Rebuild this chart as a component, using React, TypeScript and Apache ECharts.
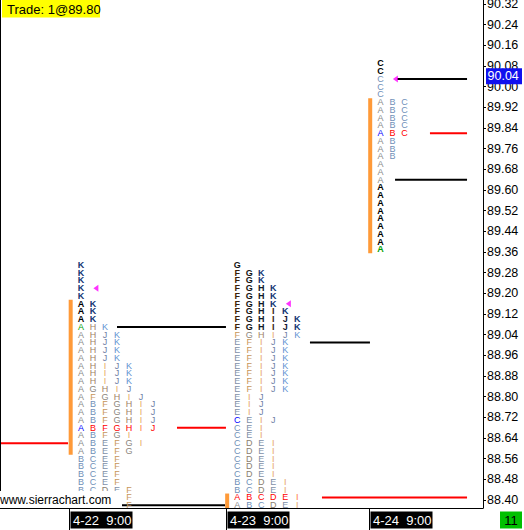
import React, { useEffect, useRef } from "react";
import * as echarts from "echarts";

// ---------- data ----------
const yTickLabels = [
  "90.32", "90.24", "90.16", "90.08", "90.00", "89.92", "89.84", "89.76", "89.68",
  "89.60", "89.52", "89.44", "89.36", "89.28", "89.20", "89.12", "89.04", "88.96",
  "88.88", "88.80", "88.72", "88.64", "88.56", "88.48", "88.40",
];
const dateLabels = ["4-22  9:00", "4-23  9:00", "4-24  9:00"];
// x (in TPO column units) where each session starts
const sessionStartX = [5.79, 18.83, 30.75];

const p1Prices = [
  89.31, 89.28, 89.25, 89.22, 89.19, 89.16, 89.13, 89.10, 89.07, 89.04, 89.01, 88.98,
  88.95, 88.92, 88.89, 88.86, 88.83, 88.80, 88.77, 88.74, 88.71, 88.68, 88.65, 88.62,
  88.59, 88.56, 88.53, 88.50, 88.47, 88.44, 88.41, 88.38,
];
const p1Letters = [
  "K", "K", "K", "K", "K", "AK", "AK", "AK", "AHK", "AHJK", "AHJK", "AHJK",
  "AHJK", "AHIJK", "AHIJK", "AHIJK", "AGHIJ", "AFGHIJ", "ABFGHIJ", "ABFGHIJ", "ABFGHIJ", "ABFGHIJ", "ABFGI", "ABEFGI",
  "ABEFG", "BCEF", "BCEF", "BCEF", "BCEF", "BCDEF", "BCDEF", "BCDEF",
];
const p2Prices = [
  89.31, 89.28, 89.25, 89.22, 89.19, 89.16, 89.13, 89.10, 89.07, 89.04, 89.01, 88.98,
  88.95, 88.92, 88.89, 88.86, 88.83, 88.80, 88.77, 88.74, 88.71, 88.68, 88.65, 88.62,
  88.59, 88.56, 88.53, 88.50, 88.47, 88.44, 88.41, 88.38,
];
const p2Letters = [
  "G", "FGK", "FGK", "FGHK", "FGHK", "FGHK", "FGHIK", "FGHIJK", "FGHIJK", "FGHIJK", "EFIJK", "EFIJK",
  "EFIJK", "EFIJK", "EFIJK", "EFIJK", "EFIJK", "EIJ", "EIJ", "EIJ", "CEIJ", "CEI", "CEI", "CDEI",
  "CDEI", "CDEI", "CDEI", "CDEI", "BCDEI", "BCDEI", "ABCDEI", "ABCDEI",
];
const p3Prices = [
  90.09, 90.06, 90.03, 90.00, 89.97, 89.94, 89.91, 89.88, 89.85, 89.82, 89.79, 89.76,
  89.73, 89.70, 89.67, 89.64, 89.61, 89.58, 89.55, 89.52, 89.49, 89.46, 89.43, 89.40, 89.37,
];
const p3Letters = [
  "C", "C", "C", "C", "C", "ABC", "ABC", "ABC", "ABC", "ABC", "AB", "AB",
  "AB", "A", "A", "A", "A", "A", "A", "A", "A", "A", "A", "A", "A",
];

const pocPrices = [88.68, 88.41, 89.82];
const strongAbove = [89.10, 89.07, 90.06];
const strongBelow = [-1, -1, 89.61];
const openPrices = [89.07, -1, 89.37];
const bluePrices = [88.68, 88.71, 89.82];
const vaHigh = [89.16, 88.41, 89.94];
const vaLow = [88.59, 88.38, 89.37];
const markerPrices = [89.22, 89.16, 90.03];
const markerCols = [1, 4, 1];

const refLinePrices = [88.62, 89.07, 88.68, 88.38, 89.01, 88.41, 90.03, 89.82, 89.64];
const refLineFrom = [0, 9.75, 14.75, 9.75, 25.83, 26.83, 33.08, 35.83, 32.92];
const refLineTo = [5.67, 18.83, 18.83, 18.75, 30.83, 38.92, 38.92, 38.92, 38.92];
const refLineKind = ["poc", "va", "poc", "va", "va", "poc", "va", "poc", "va"];

const lastPrice = 90.04;
const tradeText = "Trade: 1@89.80";
const watermark = "www.sierrachart.com";
const barCountText = "11";

// ---------- styles ----------
const FONT = "'Liberation Sans', Arial, sans-serif";
const normalColor: Record<string, string> = {
  A: "#8a8a8a", B: "#7090b8", C: "#7090b8", D: "#8a8070", E: "#7f90a8", F: "#c8965a",
  G: "#8c867c", H: "#a08466", I: "#e6a468", J: "#6f7ea6", K: "#5f92d2",
};
const strongColor: Record<string, string> = {
  A: "#000000", B: "#10203a", C: "#000000", D: "#1a1a1a", E: "#1a1a1a", F: "#3c2208",
  G: "#141414", H: "#101828", I: "#3a2410", J: "#141a38", K: "#123472",
};
const lineColor: Record<string, string> = { poc: "#ff0000", va: "#000000" };
const COL_OFFSET = 0.95;

const same = (a: number, b: number) => Math.abs(a - b) < 1e-6;

export default function App() {
  const ref = useRef<HTMLDivElement>(null);

  useEffect(() => {
    const el = ref.current!;
    const chart = echarts.init(el, undefined, { renderer: "svg" });

    const profiles = [
      { prices: p1Prices, letters: p1Letters },
      { prices: p2Prices, letters: p2Letters },
      { prices: p3Prices, letters: p3Letters },
    ];

    const letterData: number[][] = [];
    const letterInfo: { ch: string; color: string; bold: boolean }[] = [];
    profiles.forEach((pr, pi) => {
      pr.prices.forEach((price, ri) => {
        const row = pr.letters[ri];
        for (let c = 0; c < row.length; c++) {
          const ch = row[c];
          const bold =
            price >= strongAbove[pi] - 1e-6 ||
            (strongBelow[pi] > 0 && price <= strongBelow[pi] + 1e-6);
          let color = bold ? strongColor[ch] : normalColor[ch];
          if (same(price, pocPrices[pi])) color = ch === "I" ? "#ff7a45" : "#ff0000";
          if (c === 0 && same(price, bluePrices[pi])) color = "#0000ff";
          if (c === 0 && same(price, openPrices[pi])) color = "#00a000";
          letterData.push([sessionStartX[pi] + COL_OFFSET + c, price]);
          letterInfo.push({ ch, color, bold });
        }
      });
    });

    const vaData = sessionStartX.map((x, i) => [x + 0.1, vaHigh[i] + 0.015, vaLow[i] - 0.015]);
    const lineData = refLinePrices.map((p, i) => [refLineFrom[i], refLineTo[i], p, i]);
    const markerData = markerPrices.map((p, i) => [
      sessionStartX[i] + COL_OFFSET + markerCols[i] + 0.25,
      p,
    ]);

    const yTickValues = yTickLabels.map((s) => parseFloat(s));

    const option: any = {
      animation: false,
      backgroundColor: "#ffffff",
      grid: { left: 0, right: 41, top: 0, bottom: 22, containLabel: false, outerBoundsMode: "none" },
      xAxis: {
        type: "value",
        min: 0,
        max: 40.25,
        axisLine: { show: true, onZero: false, lineStyle: { color: "#000", width: 1 } },
        axisTick: { show: false },
        axisLabel: { show: false },
        splitLine: { show: false },
      },
      yAxis: {
        type: "value",
        position: "right",
        min: 88.369,
        max: 90.3355,
        axisLine: { show: true, onZero: false, lineStyle: { color: "#000", width: 1 } },
        axisTick: {
          show: true,
          length: 3,
          customValues: yTickValues,
          lineStyle: { color: "#000" },
        },
        axisLabel: {
          show: true,
          customValues: yTickValues,
          formatter: (v: number) => v.toFixed(2),
          color: "#000",
          fontSize: 12.5,
          fontFamily: FONT,
          margin: 4,
        },
        splitLine: { show: false },
      },
      series: [
        {
          type: "custom",
          name: "value area",
          clip: true,
          data: vaData,
          encode: { x: 0, y: [1, 2] },
          renderItem: (params: any, api: any) => {
            const top = api.coord([api.value(0), api.value(1)]);
            const bot = api.coord([api.value(0), api.value(2)]);
            return {
              type: "rect",
              shape: { x: top[0] - 2, y: top[1], width: 4, height: bot[1] - top[1] },
              style: { fill: "#ff9a38" },
            };
          },
        },
        {
          type: "custom",
          name: "levels",
          clip: true,
          data: lineData,
          encode: { x: [0, 1], y: 2 },
          renderItem: (params: any, api: any) => {
            const a = api.coord([api.value(0), api.value(2)]);
            const b = api.coord([api.value(1), api.value(2)]);
            const kind = refLineKind[params.dataIndex];
            return {
              type: "line",
              shape: { x1: a[0], y1: a[1], x2: b[0], y2: b[1] },
              style: { stroke: lineColor[kind], lineWidth: 2 },
            };
          },
        },
        {
          type: "custom",
          name: "tpo",
          clip: true,
          data: letterData,
          encode: { x: 0, y: 1 },
          renderItem: (params: any, api: any) => {
            const info = letterInfo[params.dataIndex];
            const p = api.coord([api.value(0), api.value(1)]);
            return {
              type: "text",
              x: p[0],
              y: p[1],
              style: {
                text: info.ch,
                fill: info.color,
                font: `${info.bold ? "bold " : ""}9px ${FONT}`,
                lineHeight: 7,
                align: "center",
                verticalAlign: "middle",
              },
            };
          },
        },
        {
          type: "scatter",
          name: "marker",
          data: markerData,
          symbol: "triangle",
          symbolRotate: 90,
          symbolSize: [7, 5],
          itemStyle: { color: "#ff00ff" },
          silent: true,
          z: 5,
        },
      ],
    };

    chart.setOption(option);

    const px = (x: number, y: number) =>
      chart.convertToPixel({ xAxisIndex: 0, yAxisIndex: 0 }, [x, y]) as number[];

    const origin = px(0, 88.369);
    const plotBottom = origin[1];
    const plotRight = px(40.25, 88.369)[0];
    const priceY = px(0, lastPrice)[1];

    const graphics: any[] = [];
    // left session border
    graphics.push({
      type: "line",
      shape: { x1: 0.5, y1: 0, x2: 0.5, y2: plotBottom },
      style: { stroke: "#000", lineWidth: 1 },
      z: 100,
    });
    // session separators + date boxes
    sessionStartX.forEach((sx, i) => {
      const x = Math.round(px(sx, 88.4)[0]) + 0.5;
      graphics.push({
        type: "line",
        shape: { x1: x, y1: plotBottom, x2: x, y2: 530 },
        style: { stroke: "#000", lineWidth: 1 },
        z: 100,
      });
      graphics.push({
        type: "rect",
        shape: { x: x + 1, y: plotBottom + 3.5, width: 62, height: 17 },
        style: { fill: "#000000" },
        z: 100,
      });
      graphics.push({
        type: "text",
        x: x + 3.5,
        y: plotBottom + 12.5,
        style: {
          text: dateLabels[i],
          fill: "#ffffff",
          font: `13px ${FONT}`,
          align: "left",
          verticalAlign: "middle",
        },
        z: 101,
      });
    });
    // bar counter box
    graphics.push({
      type: "rect",
      shape: { x: plotRight + 17, y: plotBottom + 3.5, width: 22, height: 17 },
      style: { fill: "#00c000" },
      z: 100,
    });
    graphics.push({
      type: "text",
      x: plotRight + 28,
      y: plotBottom + 12.5,
      style: { text: barCountText, fill: "#000", font: `13px ${FONT}`, align: "center", verticalAlign: "middle" },
      z: 101,
    });
    // last price label
    graphics.push({
      type: "rect",
      shape: { x: plotRight + 3, y: priceY - 8, width: 36, height: 16 },
      style: { fill: "#1010ee" },
      z: 100,
    });
    graphics.push({
      type: "text",
      x: plotRight + 4.5,
      y: priceY,
      style: { text: lastPrice.toFixed(2), fill: "#ffffff", font: `12.5px ${FONT}`, align: "left", verticalAlign: "middle" },
      z: 101,
    });
    // trade box
    graphics.push({
      type: "rect",
      shape: { x: 2, y: 0, width: 98, height: 17.5 },
      style: { fill: "#ffff00" },
      z: 100,
    });
    graphics.push({
      type: "text",
      x: 7,
      y: 9,
      style: { text: tradeText, fill: "#000", font: `13px ${FONT}`, align: "left", verticalAlign: "middle" },
      z: 101,
    });
    // watermark
    graphics.push({
      type: "rect",
      shape: { x: 0, y: plotBottom - 17, width: 122, height: 17 },
      style: { fill: "#ffffff" },
      z: 100,
    });
    graphics.push({
      type: "text",
      x: 0,
      y: plotBottom - 8,
      style: { text: watermark, fill: "#000", font: `12px ${FONT}`, align: "left", verticalAlign: "middle" },
      z: 101,
    });

    chart.setOption({ graphic: graphics });

    return () => chart.dispose();
  }, []);

  return (
    <div
      ref={ref}
      style={{ position: "fixed", left: 0, top: 0, width: 524, height: 530, background: "#fff" }}
    />
  );
}
